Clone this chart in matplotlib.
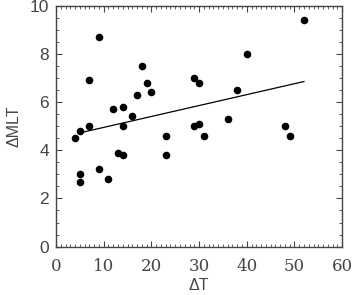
import numpy as np
import matplotlib
matplotlib.use("Agg")
import matplotlib.pyplot as plt
from matplotlib.ticker import MultipleLocator

# data
dT = [4, 5, 5, 5, 7, 7, 9, 9, 11, 12, 13, 14, 14, 14, 16, 17, 18, 19, 20,
      23, 23, 29, 30, 29, 30, 31, 36, 38, 40, 48, 49, 52]
dMLT = [4.5, 4.8, 3.0, 2.7, 5.0, 6.9, 8.7, 3.2, 2.8, 5.7, 3.9, 3.8, 5.8, 5.0,
        5.4, 6.3, 7.5, 6.8, 6.4, 4.6, 3.8, 7.0, 6.8, 5.0, 5.1, 4.6, 5.3, 6.5,
        8.0, 5.0, 4.6, 9.4]

# fitted trend line endpoints
fit_x = [5, 52]
fit_y = [4.72, 6.85]

GRAY = "#444444"

fig = plt.figure(figsize=(3.52, 2.95), dpi=100)
ax = fig.add_axes([0.159, 0.164, 0.813, 0.817])

ax.scatter(dT, dMLT, s=30, color="black", zorder=3, linewidths=0)
ax.plot(fit_x, fit_y, color="black", linewidth=0.9)

ax.set_xlim(0, 60)
ax.set_ylim(0, 10)
ax.xaxis.set_major_locator(MultipleLocator(10))
ax.xaxis.set_minor_locator(MultipleLocator(1))
ax.yaxis.set_major_locator(MultipleLocator(2))
ax.yaxis.set_minor_locator(MultipleLocator(0.5))

ax.tick_params(which="both", direction="in", top=True, right=True, color=GRAY)
ax.tick_params(which="major", length=4.5, width=0.8)
ax.tick_params(which="minor", length=2, width=0.6)
ax.tick_params(axis="x", pad=8, labelcolor=GRAY)
ax.tick_params(axis="y", pad=5, labelcolor=GRAY)

for lab in ax.get_xticklabels():
    lab.set_family("DejaVu Serif")
    lab.set_fontsize(12)
for lab in ax.get_yticklabels():
    lab.set_family("Liberation Sans")
    lab.set_fontsize(12.5)

for sp in ax.spines.values():
    sp.set_color(GRAY)
    sp.set_linewidth(1.0)

ax.set_xlabel("ΔT", fontsize=11.5, color=GRAY, family="Liberation Sans", labelpad=2)
ax.set_ylabel("ΔMLT", fontsize=11.5, color=GRAY, family="Liberation Sans", labelpad=6)

fig.savefig("out.png", dpi=100)
